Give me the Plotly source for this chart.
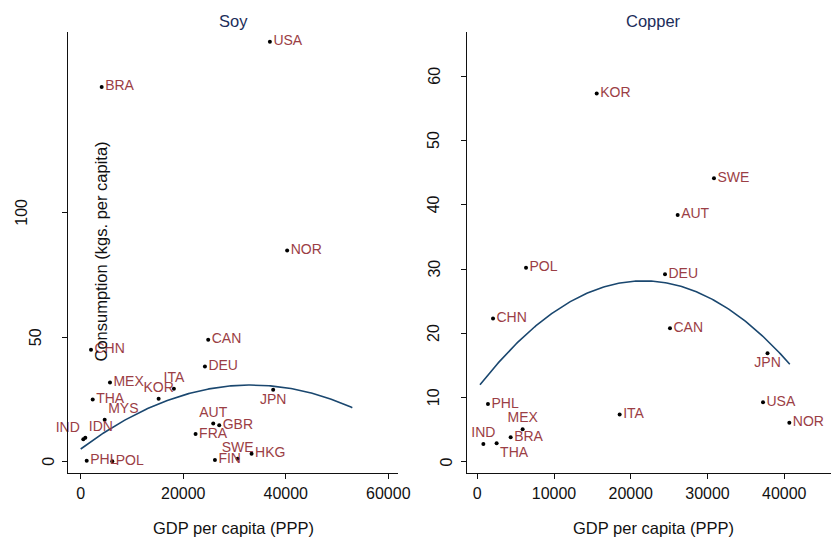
import numpy as np
import plotly.graph_objects as go

# ---- Soy: GDP per capita (PPP) vs consumption (kgs. per capita) ----
soy_country = ["USA", "BRA", "NOR", "CAN", "CHN", "DEU", "MEX", "ITA", "KOR", "THA",
               "JPN", "MYS", "AUT", "GBR", "FRA", "IND", "IDN", "SWE", "HKG", "FIN",
               "PHL", "POL"]
soy_gdp = [36900, 4090, 40270, 24870, 2010, 24230, 5710, 18180, 15200, 2340,
           37540, 4680, 25850, 27020, 22410, 510, 900, 30600, 33330, 26180,
           1170, 6160]
soy_cons = [168.4, 150.3, 84.7, 48.9, 44.9, 38.2, 31.8, 29.3, 25.2, 24.9,
            28.9, 16.8, 15.3, 14.6, 11.1, 9.0, 9.6, 1.2, 3.2, 0.7,
            0.4, 0.2]
# quadratic fit curve: start, top and end points
soy_fit_x = [0, 33200, 52980]
soy_fit_y = [5.1, 30.75, 21.65]

# ---- Copper ----
copper_country = ["KOR", "SWE", "AUT", "POL", "DEU", "CHN", "CAN", "JPN", "PHL", "ITA",
                  "USA", "NOR", "MEX", "BRA", "IND", "THA"]
copper_gdp = [15560, 30840, 26110, 6350, 24460, 2050, 25110, 37820, 1390, 18550,
              37230, 40660, 5910, 4350, 790, 2520]
copper_cons = [57.3, 44.1, 38.4, 30.2, 29.2, 22.3, 20.8, 16.9, 9.0, 7.4,
               9.3, 6.1, 5.1, 3.85, 2.8, 2.9]
copper_fit_x = [350, 21550, 40720]
copper_fit_y = [12.0, 28.16, 15.2]

# tick values
soy_xticks = [0, 20000, 40000, 60000]
soy_yticks = [0, 50, 100]
copper_xticks = [0, 10000, 20000, 30000, 40000]
copper_yticks = [0, 10, 20, 30, 40, 50, 60]

# ---- styling ----
W, H = 831, 543
FONT = "Liberation Sans, Arial, sans-serif"
LABEL_COLOR = "#9b3e45"
FIT_COLOR = "#1a476f"
TITLE_COLOR = "#1c2d5a"

soy_label_pos = {"IND": "top left", "IDN": "top right", "MYS": "top right",
                 "KOR": "top center", "ITA": "top center", "AUT": "top center",
                 "SWE": "top center", "JPN": "bottom center"}
copper_label_pos = {"IND": "top center", "MEX": "top center", "THA": "bottom right",
                    "JPN": "bottom center"}


def fit_line(xs, ys, n=200):
    coef = np.polyfit(xs, ys, 2)
    gx = np.linspace(xs[0], xs[-1], n)
    return gx, np.polyval(coef, gx)


fig = go.Figure()

for gdp, cons, names, pos, fx, fy, xa, ya in [
    (soy_gdp, soy_cons, soy_country, soy_label_pos, soy_fit_x, soy_fit_y, "x", "y"),
    (copper_gdp, copper_cons, copper_country, copper_label_pos, copper_fit_x, copper_fit_y, "x2", "y2"),
]:
    gx, gy = fit_line(fx, fy)
    fig.add_trace(go.Scatter(x=gx, y=gy, mode="lines", xaxis=xa, yaxis=ya,
                             line=dict(color=FIT_COLOR, width=1.6),
                             hoverinfo="skip", showlegend=False))
    fig.add_trace(go.Scatter(
        x=gdp, y=cons, text=names, mode="markers+text", xaxis=xa, yaxis=ya,
        textposition=[pos.get(n, "middle right") for n in names],
        marker=dict(color="black", size=4), cliponaxis=False,
        textfont=dict(family=FONT, size=14, color=LABEL_COLOR),
        showlegend=False))


def px_x(p):
    return p / W


def px_y(p):
    return 1 - p / H


y_dom = [px_y(473.3), px_y(32.3)]
soy_dom = [px_x(68.3), px_x(398.3)]
cop_dom = [px_x(466.7), 1.0]

axis_common = dict(showline=True, linecolor="#111111", linewidth=1, ticks="outside",
                   ticklen=5, tickcolor="#111111", showgrid=False, zeroline=False,
                   automargin=False,
                   tickfont=dict(family=FONT, size=16, color="#111111"))

fig.update_layout(
    width=W, height=H, autosize=False, margin=dict(l=0, r=0, t=0, b=0),
    paper_bgcolor="white", plot_bgcolor="white",
    font=dict(family=FONT, color="#111111"),
    xaxis=dict(domain=soy_dom, range=[-2419, 61950], tickvals=soy_xticks,
               tickformat="d", anchor="y", **axis_common),
    yaxis=dict(domain=y_dom, range=[-4.65, 172.2], tickvals=soy_yticks,
               showticklabels=False, anchor="x", **axis_common),
    xaxis2=dict(domain=cop_dom, range=[-1380, 46090], tickvals=copper_xticks,
                tickformat="d", anchor="y2", **axis_common),
    yaxis2=dict(domain=y_dom, range=[-1.76, 66.8], tickvals=copper_yticks,
                showticklabels=False, anchor="x2", **axis_common),
)

ann = []
# panel titles
for txt, dom in [("Soy", soy_dom), ("Copper", [cop_dom[0], px_x(840)])]:
    ann.append(dict(text=txt, x=(dom[0] + dom[1]) / 2, y=px_y(21), xref="paper", yref="paper",
                    xanchor="center", yanchor="middle", showarrow=False,
                    font=dict(family=FONT, size=16.5, color=TITLE_COLOR)))
# x-axis titles
for dom in [soy_dom, [cop_dom[0], px_x(840)]]:
    ann.append(dict(text="GDP per capita (PPP)", x=(dom[0] + dom[1]) / 2, y=px_y(528),
                    xref="paper", yref="paper", xanchor="center", yanchor="middle",
                    showarrow=False, font=dict(family=FONT, size=16.5, color="#111111")))
# y-axis title
ann.append(dict(text="Consumption (kgs. per capita)", x=px_x(100), y=px_y(251.5),
                xref="paper", yref="paper", xanchor="center", yanchor="middle",
                textangle=-90, showarrow=False,
                font=dict(family=FONT, size=16.5, color="#111111")))
# vertical y tick labels
for ticks, dom, yref in [(soy_yticks, soy_dom, "y"), (copper_yticks, cop_dom, "y2")]:
    for v in ticks:
        s = str(v)
        ann.append(dict(text=s, x=dom[0], y=v, xref="paper", yref=yref,
                        xanchor="center", yanchor="middle", textangle=-90,
                        xshift=-(19.3 + 13.8 * (len(s) - 1)), showarrow=False,
                        font=dict(family=FONT, size=16, color="#111111")))
fig.update_layout(annotations=ann)

fig.write_html("out.html", config={"responsive": False})
